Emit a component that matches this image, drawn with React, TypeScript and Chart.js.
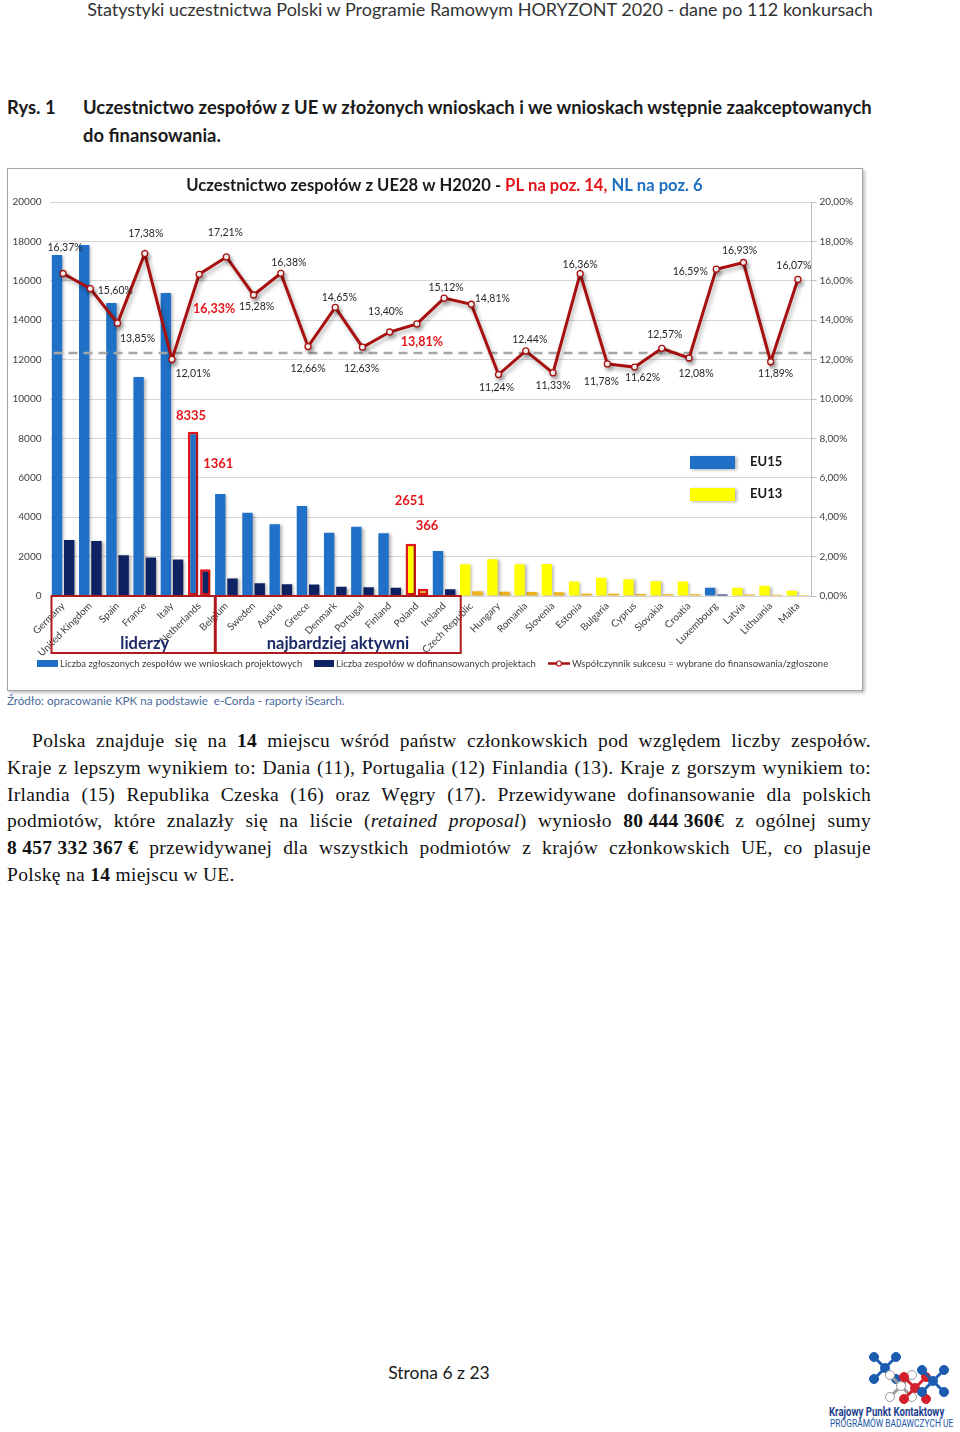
import React, { useEffect, useRef } from 'react';
import { Chart, registerables } from 'chart.js';
Chart.register(...registerables);

// ---------- data ----------
const COUNTRIES = [
  'Germany', 'United Kingdom', 'Spain', 'France', 'Italy', 'Netherlands', 'Belgium', 'Sweden',
  'Austria', 'Greece', 'Denmark', 'Portugal', 'Finland', 'Poland', 'Ireland', 'Czech Republic',
  'Hungary', 'Romania', 'Slovenia', 'Estonia', 'Bulgaria', 'Cyprus', 'Slovakia', 'Croatia',
  'Luxembourg', 'Latvia', 'Lithuania', 'Malta',
];
const EU_GROUP = [
  'EU15', 'EU15', 'EU15', 'EU15', 'EU15', 'EU15', 'EU15', 'EU15',
  'EU15', 'EU15', 'EU15', 'EU15', 'EU15', 'EU13', 'EU15', 'EU13',
  'EU13', 'EU13', 'EU13', 'EU13', 'EU13', 'EU13', 'EU13', 'EU13',
  'EU15', 'EU13', 'EU13', 'EU13',
];
const SUBMITTED = [
  17310, 17820, 14870, 11120, 15380, 8335, 5180, 4230,
  3640, 4570, 3215, 3520, 3180, 2651, 2285, 1610,
  1860, 1610, 1620, 730, 930, 845, 745, 730,
  420, 420, 525, 270,
];
const FUNDED = [
  2840, 2790, 2070, 1950, 1850, 1361, 890, 650,
  600, 580, 470, 445, 425, 366, 345, 240,
  210, 200, 185, 120, 110, 100, 95, 90,
  70, 70, 62, 45,
];
const SUCCESS_RATE = [
  16.37, 15.60, 13.85, 17.38, 12.01, 16.33, 17.21, 15.28,
  16.38, 12.66, 14.65, 12.63, 13.40, 13.81, 15.12, 14.81,
  11.24, 12.44, 11.33, 16.36, 11.78, 11.62, 12.57, 12.08,
  16.59, 16.93, 11.89, 16.07,
];
const AVERAGE_RATE = 12.33;
const HIGHLIGHTED = ['Netherlands', 'Poland'];
const GROUPS = [
  { label: 'liderzy', from: 0, to: 5, anchor: 3.0 },
  { label: 'najbardziej aktywni', from: 6, to: 14, anchor: 10.1 },
];
const LEFT_AXIS = { min: 0, max: 20000, step: 2000 };
const RIGHT_AXIS = { min: 0, max: 20, step: 2 };
const SERIES_NAMES = [
  'Liczba zgłoszonych zespołów we wnioskach projektowych',
  'Liczba zespołów w dofinansowanych projektach',
  'Współczynnik sukcesu = wybrane do finansowania/zgłoszone',
];

// label placement (offset from the point, px)
const RATE_LABEL_OFFSET: [number, number][] = [
  [2, -26], [25, 2], [20, 15], [1, -20], [21, 14], [15, 35], [-1, -24], [3, 12],
  [8, -11], [0, 22], [4, -10], [-1, 21], [-4, -20], [5, 18], [2, -11], [21, -6],
  [-2, 13], [4, -11], [0, 13], [0, -9], [-6, 18], [8, 11], [3, -14], [7, 16],
  [-26, 2], [-4, -12], [5, 12], [-4, -14],
];
// bar value labels for highlighted countries: [submitted, funded] offsets from bar top
const BAR_LABEL_OFFSET: Record<string, [number, number][]> = {
  Netherlands: [[-2, -16], [13, -105]],
  Poland: [[-1, -43], [4, -63]],
};

// ---------- styles ----------
const FONT = 'Lato, "Open Sans", sans-serif';
const BLUE = '#1f70c6';
const NAVY = '#0f2263';
const YELLOW = '#ffff00';
const GOLD = '#f0b31e';
const LINE_RED = '#a8100f';
const HL_RED = '#e3161b';
const TEXT = '#404040';

const fmtPct = (v: number) => v.toFixed(2).replace('.', ',') + '%';

const decorPlugin = {
  id: 'decor',
  beforeDatasetDraw(chart: any, args: any) {
    const ctx = chart.ctx;
    const ds = chart.data.datasets[args.index];
    if (ds.type === 'line') {
      const y1 = chart.scales.y1;
      const area = chart.chartArea;
      const y = y1.getPixelForValue(AVERAGE_RATE);
      ctx.save();
      ctx.strokeStyle = '#a6a6a6';
      ctx.lineWidth = 2.5;
      ctx.setLineDash([9, 6]);
      ctx.beginPath();
      ctx.moveTo(area.left + 4, y);
      ctx.lineTo(area.right, y);
      ctx.stroke();
      ctx.restore();
    }
    ctx.save();
    if (ds.type === 'line') {
      ctx.shadowColor = 'rgba(0,0,0,0.3)';
      ctx.shadowBlur = 4;
      ctx.shadowOffsetX = 2;
      ctx.shadowOffsetY = 3;
    } else {
      ctx.shadowColor = 'rgba(0,0,0,0.3)';
      ctx.shadowBlur = 3;
      ctx.shadowOffsetX = 2;
      ctx.shadowOffsetY = 1;
    }
  },
  afterDatasetDraw(chart: any) {
    chart.ctx.restore();
  },
  afterDatasetsDraw(chart: any) {
    const ctx = chart.ctx;
    const datasets = chart.data.datasets;
    const lineIdx = datasets.findIndex((d: any) => d.type === 'line');
    const barIdx = datasets.map((d: any, i: number) => (d.type === 'bar' ? i : -1)).filter((i: number) => i >= 0);
    const meta = chart.getDatasetMeta(lineIdx);
    ctx.save();
    ctx.textAlign = 'center';
    ctx.textBaseline = 'middle';
    meta.data.forEach((el: any, i: number) => {
      const hl = HIGHLIGHTED.includes(COUNTRIES[i]);
      const [dx, dy] = RATE_LABEL_OFFSET[i];
      ctx.font = hl ? `bold 12.5px ${FONT}` : `10.5px ${FONT}`;
      ctx.fillStyle = hl ? HL_RED : '#262626';
      ctx.fillText(fmtPct(SUCCESS_RATE[i]), el.x + dx, el.y + dy);
    });
    ctx.font = `bold 13px ${FONT}`;
    ctx.fillStyle = HL_RED;
    HIGHLIGHTED.forEach((name) => {
      const i = COUNTRIES.indexOf(name);
      barIdx.forEach((d: number, k: number) => {
        const bar = chart.getDatasetMeta(d).data[i];
        const [dx, dy] = BAR_LABEL_OFFSET[name][k];
        const val = datasets[d].data[i];
        ctx.fillText(String(val), bar.x + dx, bar.y + dy);
      });
    });
    ctx.restore();
  },
  afterDraw(chart: any) {
    const ctx = chart.ctx;
    const area = chart.chartArea;
    const cw = (area.right - area.left) / COUNTRIES.length;
    ctx.save();
    GROUPS.forEach((g) => {
      const x0 = area.left + g.from * cw + 2;
      const x1 = area.left + (g.to + 1) * cw + 3;
      ctx.strokeStyle = '#b01a1e';
      ctx.lineWidth = 2;
      ctx.strokeRect(x0, area.bottom, x1 - x0, 57);
      ctx.font = `bold 16.5px ${FONT}`;
      ctx.fillStyle = '#1b2a66';
      ctx.textAlign = 'center';
      ctx.textBaseline = 'middle';
      ctx.fillText(g.label, area.left + (g.anchor + 0.5) * cw, area.bottom + 48);
    });
    const parts = [
      { t: 'Uczestnictwo zespołów z UE28 w H2020 - ', c: '#1a1a1a' },
      { t: 'PL na poz. 14,', c: HL_RED },
      { t: ' NL na poz. 6', c: '#1f6fc0' },
    ];
    ctx.font = `bold 16.6px ${FONT}`;
    ctx.textAlign = 'left';
    ctx.textBaseline = 'middle';
    const total = parts.reduce((s, p) => s + ctx.measureText(p.t).width, 0);
    let x = 436.5 - total / 2;
    parts.forEach((p) => {
      ctx.fillStyle = p.c;
      ctx.fillText(p.t, x, 17);
      x += ctx.measureText(p.t).width;
    });
    const keys = [
      { label: 'EU15', color: BLUE, y: 287 },
      { label: 'EU13', color: YELLOW, y: 319 },
    ];
    keys.forEach((k) => {
      ctx.save();
      ctx.shadowColor = 'rgba(0,0,0,0.3)';
      ctx.shadowBlur = 3;
      ctx.shadowOffsetX = 2;
      ctx.shadowOffsetY = 1;
      ctx.fillStyle = k.color;
      ctx.fillRect(682, k.y, 45, 13);
      ctx.restore();
      ctx.fillStyle = '#1a1a1a';
      ctx.font = `bold 13px ${FONT}`;
      ctx.fillText(k.label, 742, k.y + 5.5);
    });
    const ly = 494.5;
    ctx.font = `9.5px ${FONT}`;
    ctx.fillStyle = BLUE;
    ctx.fillRect(29, ly - 3.5, 21, 7);
    ctx.fillStyle = TEXT;
    ctx.fillText(SERIES_NAMES[0], 52, ly);
    ctx.fillStyle = NAVY;
    ctx.fillRect(306, ly - 3.5, 20, 7);
    ctx.fillStyle = TEXT;
    ctx.fillText(SERIES_NAMES[1], 328, ly);
    ctx.strokeStyle = LINE_RED;
    ctx.lineWidth = 2.5;
    ctx.beginPath();
    ctx.moveTo(540, ly);
    ctx.lineTo(562, ly);
    ctx.stroke();
    ctx.beginPath();
    ctx.arc(551, ly, 2.5, 0, Math.PI * 2);
    ctx.fillStyle = '#fff';
    ctx.fill();
    ctx.lineWidth = 1.2;
    ctx.stroke();
    ctx.fillStyle = TEXT;
    ctx.fillText(SERIES_NAMES[2], 564, ly);
    ctx.restore();
  },
};

function ChartBox() {
  const ref = useRef<HTMLCanvasElement | null>(null);
  useEffect(() => {
    if (!ref.current) return;
    const hl = COUNTRIES.map((c) => HIGHLIGHTED.includes(c));
    const chart = new Chart(ref.current, {
      type: 'bar',
      data: {
        labels: COUNTRIES,
        datasets: [
          {
            type: 'line',
            label: SERIES_NAMES[2],
            data: SUCCESS_RATE,
            yAxisID: 'y1',
            borderColor: LINE_RED,
            borderWidth: 3,
            pointRadius: 3,
            pointBorderWidth: 1.3,
            pointBackgroundColor: '#ffffff',
            pointBorderColor: LINE_RED,
            tension: 0,
            order: 0,
          } as any,
          {
            type: 'bar',
            label: SERIES_NAMES[0],
            data: SUBMITTED,
            yAxisID: 'y',
            backgroundColor: EU_GROUP.map((g) => (g === 'EU15' ? BLUE : YELLOW)),
            borderColor: hl.map((h) => (h ? HL_RED : 'rgba(0,0,0,0)')),
            borderWidth: hl.map((h) => (h ? 2.5 : 0)),
            borderSkipped: false,
            categoryPercentage: 0.9,
            barPercentage: 0.85,
            order: 1,
          } as any,
          {
            type: 'bar',
            label: SERIES_NAMES[1],
            data: FUNDED,
            yAxisID: 'y',
            backgroundColor: EU_GROUP.map((g) => (g === 'EU15' ? NAVY : GOLD)),
            borderColor: hl.map((h) => (h ? HL_RED : 'rgba(0,0,0,0)')),
            borderWidth: hl.map((h) => (h ? 2.5 : 0)),
            borderSkipped: false,
            categoryPercentage: 0.9,
            barPercentage: 0.85,
            order: 2,
          } as any,
        ],
      },
      options: {
        animation: false,
        responsive: true,
        maintainAspectRatio: false,
        layout: { padding: { top: 33, bottom: 34, left: 0, right: 0 } },
        plugins: { legend: { display: false }, tooltip: { enabled: false }, title: { display: false } },
        scales: {
          x: {
            grid: { display: false, drawTicks: false },
            border: { display: false },
            ticks: {
              autoSkip: false,
              maxRotation: 45,
              minRotation: 45,
              padding: 4,
              color: TEXT,
              font: { size: 10, family: FONT },
            },
            afterFit: (s: any) => { s.height = 60; },
          },
          y: {
            position: 'left',
            min: LEFT_AXIS.min,
            max: LEFT_AXIS.max,
            ticks: {
              stepSize: LEFT_AXIS.step,
              color: TEXT,
              padding: 8,
              font: { size: 10, family: FONT },
              callback: (v: any) => String(v),
            },
            grid: { color: '#d6d6d6', drawTicks: false },
            border: { display: false },
            afterFit: (s: any) => { s.width = 41.5; },
          },
          y1: {
            position: 'right',
            min: RIGHT_AXIS.min,
            max: RIGHT_AXIS.max,
            ticks: {
              stepSize: RIGHT_AXIS.step,
              color: TEXT,
              padding: 3,
              font: { size: 10, family: FONT },
              callback: (v: any) => fmtPct(Number(v)),
            },
            grid: { drawOnChartArea: false, drawTicks: true, tickLength: 5, color: '#bdbdbd' },
            border: { display: true, color: '#bdbdbd' },
            afterFit: (s: any) => { s.width = 50.5; },
          },
        },
      } as any,
      plugins: [decorPlugin],
    });
    return () => chart.destroy();
  }, []);
  return (
    <div
      style={{
        position: 'absolute', left: 7, top: 168, width: 854, height: 521,
        border: '1px solid #a3a3a3', boxShadow: '2px 2px 3px rgba(0,0,0,0.25)', background: '#fff',
      }}
    >
      <canvas ref={ref} style={{ display: 'block', width: '100%', height: '100%' }} />
    </div>
  );
}

function Molecule({ cx, cy, fill, stroke }: { cx: number; cy: number; fill: string; stroke: string }) {
  const a = 11;
  const pts = [[-a, -a], [a, -a], [-a, a], [a, a]];
  return (
    <g>
      <line x1={cx - a} y1={cy - a} x2={cx + a} y2={cy + a} stroke={stroke} strokeWidth={3} />
      <line x1={cx + a} y1={cy - a} x2={cx - a} y2={cy + a} stroke={stroke} strokeWidth={3} />
      <circle cx={cx} cy={cy} r={4.5} fill={fill} stroke={stroke} strokeWidth={1} />
      {pts.map(([dx, dy], i) => (
        <circle key={i} cx={cx + dx} cy={cy + dy} r={4.5} fill={fill} stroke={stroke} strokeWidth={1} />
      ))}
    </g>
  );
}

const nowrap: React.CSSProperties = { display: 'inline-block', whiteSpace: 'pre', textIndent: 0 };

export default function App() {
  const calibri = 'Lato, "Open Sans", sans-serif';
  const lines = [
    <>Polska znajduje się na <b>14</b> miejscu wśród państw członkowskich pod względem liczby zespołów.</>,
    <>Kraje z lepszym wynikiem to: Dania (11), Portugalia (12) Finlandia (13). Kraje z gorszym wynikiem to:</>,
    <>Irlandia (15) Republika Czeska (16) oraz Węgry (17). Przewidywane dofinansowanie dla polskich</>,
    <>podmiotów, które znalazły się na liście (<i>retained proposal</i>) wyniosło <b style={nowrap}>{'80 444 360€'}</b> z ogólnej sumy</>,
    <><b style={nowrap}>{'8 457 332 367 €'}</b> przewidywanej dla wszystkich podmiotów z krajów członkowskich UE, co plasuje</>,
  ];
  return (
    <div style={{ position: 'absolute', left: 0, top: 0, width: 960, height: 1432, background: '#fff', overflow: 'hidden' }}>
      <div style={{ position: 'absolute', left: 0, top: -2, width: 960, textAlign: 'center', fontFamily: calibri, fontSize: 18, lineHeight: '22px', color: '#333' }}>
        Statystyki uczestnictwa Polski w Programie Ramowym HORYZONT 2020 - dane po 112 konkursach
      </div>
      <div style={{ position: 'absolute', left: 7, top: 93, fontFamily: calibri, fontWeight: 700, fontSize: 18.4, lineHeight: '28px', color: '#1a1a1a' }}>
        Rys. 1
      </div>
      <div style={{ position: 'absolute', left: 83, top: 93, width: 870, fontFamily: calibri, fontWeight: 700, fontSize: 18.4, lineHeight: '28px', color: '#1a1a1a', whiteSpace: 'nowrap' }}>
        Uczestnictwo zespołów z UE w złożonych wnioskach i we wnioskach wstępnie zaakceptowanych
        <br />
        do finansowania.
      </div>

      <ChartBox />

      <div style={{ position: 'absolute', left: 7, top: 693, fontFamily: calibri, fontSize: 11.6, lineHeight: '16px', color: '#4a6a9a', whiteSpace: 'pre' }}>
        {'Źródło: opracowanie KPK na podstawie  e-Corda - raporty iSearch.'}
      </div>

      <div style={{ position: 'absolute', left: 7, top: 728, width: 864, fontFamily: '"Liberation Serif", serif', fontSize: 19.5, letterSpacing: 0.3, lineHeight: '26.8px', color: '#111' }}>
        {lines.map((l, i) => (
          <div key={i} style={{ textAlign: 'justify', textAlignLast: 'justify', whiteSpace: 'nowrap', textIndent: i === 0 ? 25 : 0 } as any}>
            {l}
          </div>
        ))}
        <div>Polskę na <b>14</b> miejscu w UE.</div>
      </div>

      <div style={{ position: 'absolute', left: 339, top: 1361, width: 200, textAlign: 'center', fontFamily: calibri, fontSize: 17.5, lineHeight: '24px', color: '#1a1a1a' }}>
        Strona 6 z 23
      </div>

      <svg style={{ position: 'absolute', left: 855, top: 1348 }} width={100} height={58}>
        <Molecule cx={30} cy={20} fill="#1d5bb0" stroke="#1d5bb0" />
        <Molecule cx={46} cy={38} fill="#ffffff" stroke="#9a9a9a" />
        <Molecule cx={60} cy={40} fill="#d3202b" stroke="#d3202b" />
        <Molecule cx={78} cy={33} fill="#1d5bb0" stroke="#1d5bb0" />
      </svg>
      <div style={{ position: 'absolute', left: 829, top: 1405, fontFamily: 'Roboto, sans-serif', fontWeight: 700, fontSize: 12, lineHeight: '15px', color: '#1d3f8f', whiteSpace: 'nowrap', transform: 'scaleX(0.8)', transformOrigin: 'left top' }}>
        Krajowy Punkt Kontaktowy
      </div>
      <div style={{ position: 'absolute', left: 830, top: 1418, fontFamily: 'Roboto, sans-serif', fontSize: 10, lineHeight: '12px', color: '#2255a5', whiteSpace: 'nowrap', transform: 'scaleX(0.84)', transformOrigin: 'left top' }}>
        PROGRAMÓW BADAWCZYCH UE
      </div>
    </div>
  );
}
